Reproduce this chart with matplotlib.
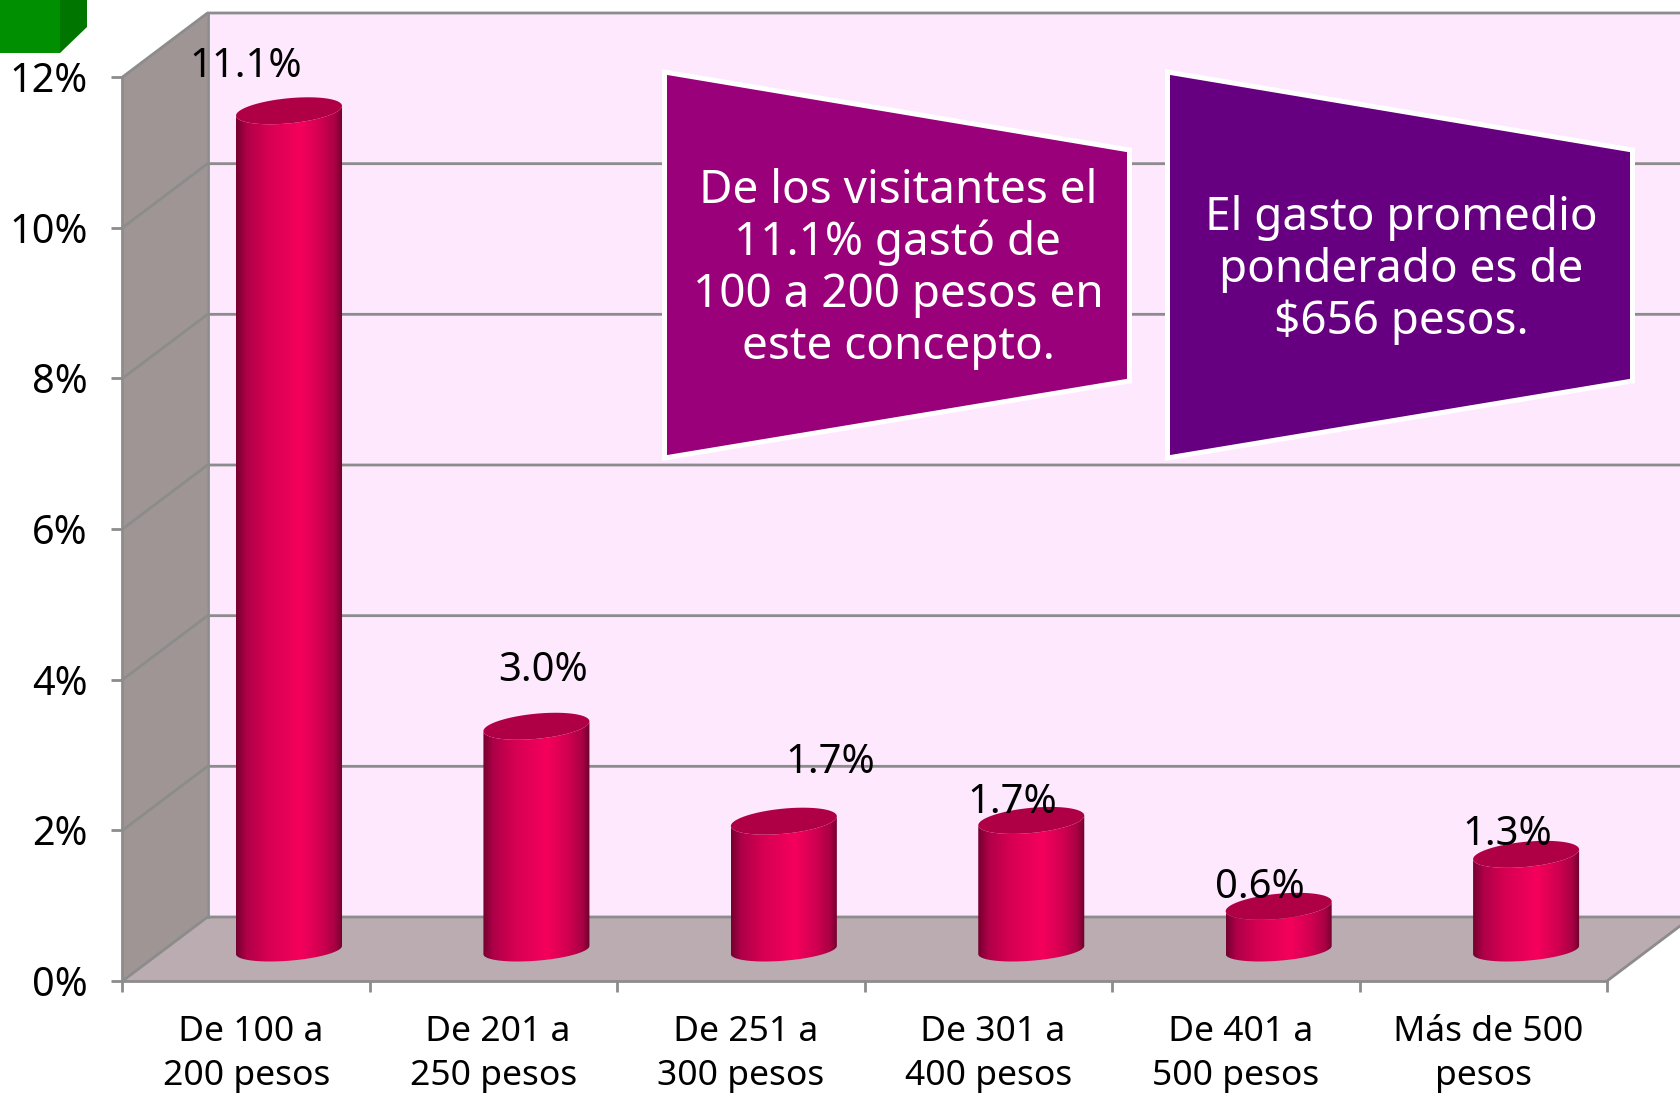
import numpy as np
import matplotlib
matplotlib.use('Agg')
import matplotlib.pyplot as plt
from matplotlib.colors import LinearSegmentedColormap
from matplotlib.patches import Polygon
from matplotlib.transforms import Affine2D

plt.rcParams['font.family'] = ['Noto Sans', 'DejaVu Sans']

# datos
categories = [' De 100 a\n200 pesos', ' De 201 a\n250 pesos', ' De 251 a\n300 pesos',
              ' De 301 a\n400 pesos', ' De 401 a\n500 pesos', ' Más de 500\npesos']
values = [11.14, 2.97, 1.71, 1.72, 0.58, 1.27]
y_ticks = [0, 2, 4, 6, 8, 10, 12]
note_left = 'De los visitantes el\n11.1% gastó de\n100 a 200 pesos en\neste concepto.'
note_right = 'El gasto promedio\nponderado es de\n$656 pesos.'

# desplazamiento de cada etiqueta respecto a la tapa del cilindro (px)
label_dx = [-43, 7, 46, -19, -19, -19]
label_dy = [44, 55, 58, 17, 18, 19]

W, H = 1681, 1096
fig = plt.figure(figsize=(W / 100, H / 100), dpi=100, facecolor='white')
ax = fig.add_axes([122.5 / W, (H - 981) / H, 1484.5 / W, 904 / H])
ax.patch.set_visible(False)
px = Affine2D().scale(1, -1).translate(0, H)  # pixeles desde arriba a la izquierda

GRID = '#8c8c8c'
LW = 2.0
ux, uy = 247.4, 904 / 12  # px por unidad
dx, dy = 85 / ux, 64 / uy  # profundidad del 3D
x_max = len(categories)

# paredes
ax.add_patch(Polygon([(0, 0), (dx, dy), (dx, 12 + dy), (0, 12)], fc='#9f9595', ec='none', zorder=0, clip_on=False))
ax.add_patch(Polygon([(0, 0), (x_max, 0), (x_max + dx, dy), (dx, dy)], fc='#baacb0', ec='none', zorder=0, clip_on=False))
ax.add_patch(Polygon([(dx, dy), (x_max + dx, dy), (x_max + dx, 12 + dy), (dx, 12 + dy)], fc='#fde8fe', ec='none', zorder=0, clip_on=False))

# rejilla
for t in y_ticks:
    ax.plot([0, dx, x_max + dx], [t, t + dy, t + dy], color=GRID, lw=LW, zorder=1, clip_on=False)
ax.plot([dx, dx], [dy, 12 + dy], color=GRID, lw=LW, zorder=1, clip_on=False)
ax.plot([x_max, x_max + dx], [0, dy], color=GRID, lw=LW, zorder=1, clip_on=False)

# cilindros
cmap = LinearSegmentedColormap.from_list('cil', [(0, '#75002f'), (0.1, '#b00048'), (0.3, '#d60052'),
                                                 (0.6, '#f5005c'), (0.8, '#d00050'), (0.93, '#a80044'), (1, '#6e002c')])
grad = np.linspace(0, 1, 256).reshape(1, -1)
a = 53 / ux
b_top, b_bot = 13.5 / uy, 11.5 / uy
phi = np.arcsin(0.36)
base = 31 / uy


def ring(cx, cy, b, t):
    return np.column_stack([cx + a * np.cos(t), cy + b * np.sin(t + phi)])


for i, v in enumerate(values):
    cx = i + 0.673
    low = np.linspace(np.pi, 2 * np.pi, 60)
    body = np.vstack([ring(cx, base, b_bot, low), ring(cx, base + v, b_top, low[::-1])])
    im = ax.imshow(grad, cmap=cmap, aspect='auto', extent=[cx - a, cx + a, 0, base + v + 2 * b_top],
                   interpolation='bilinear', zorder=3)
    im.set_clip_box(fig.bbox)
    clip = Polygon(body, transform=ax.transData)
    im.set_clip_path(clip)
    ax.add_patch(Polygon(ring(cx, base + v, b_top, np.linspace(0, 2 * np.pi, 120)), fc='#b00045', ec='none',
                         zorder=3.5, clip_on=False))
    ax.annotate(f'{round(v, 1):.1f}%', (cx, base + v), xytext=(label_dx[i], label_dy[i]),
                textcoords='offset pixels', ha='center', va='center', fontsize=28.8, color='black', zorder=6)

# ejes
ax.set_xlim(0, x_max)
ax.set_ylim(0, 12)
ax.set_yticks(y_ticks)
ax.set_yticklabels([f'{t}%' for t in y_ticks], fontsize=28.5)
ax.set_xticks(range(x_max + 1))
ax.set_xticklabels([])
ax.set_xticks(np.arange(x_max) + 0.5, categories, minor=True, fontsize=25.5, linespacing=1.4)
ax.tick_params(axis='x', which='major', length=8, width=LW, color=GRID)
ax.tick_params(axis='x', which='minor', length=0, pad=24.5)
ax.tick_params(axis='y', length=8, width=LW, color=GRID, pad=17)
for s in ['top', 'right']:
    ax.spines[s].set_visible(False)
for s in ['left', 'bottom']:
    ax.spines[s].set_color(GRID)
    ax.spines[s].set_linewidth(LW)


# cuadros de texto
def note(x0, color, text, cx, cy):
    pts = [(x0, 72), (x0 + 465, 150), (x0 + 465, 381), (x0, 458)]
    fig.add_artist(Polygon(pts, fc=color, ec='white', lw=3.6, joinstyle='miter', transform=px, zorder=7))
    fig.text(cx, H - cy, text, transform=None, color='white', fontsize=33, ha='center', va='center',
             linespacing=1.165, zorder=8)


note(664.5, '#99007a', note_left, 898, 269)
note(1167.5, '#660080', note_right, 1401, 270)

# cubo verde de la esquina
fig.add_artist(Polygon([(0, 0), (60, 0), (60, 53), (0, 53)], fc='#008f00', ec='none', transform=px, zorder=9))
fig.add_artist(Polygon([(60, 0), (87, 0), (87, 27), (60, 53)], fc='#007500', ec='none', transform=px, zorder=9))

fig.savefig('out.png', dpi=100)
